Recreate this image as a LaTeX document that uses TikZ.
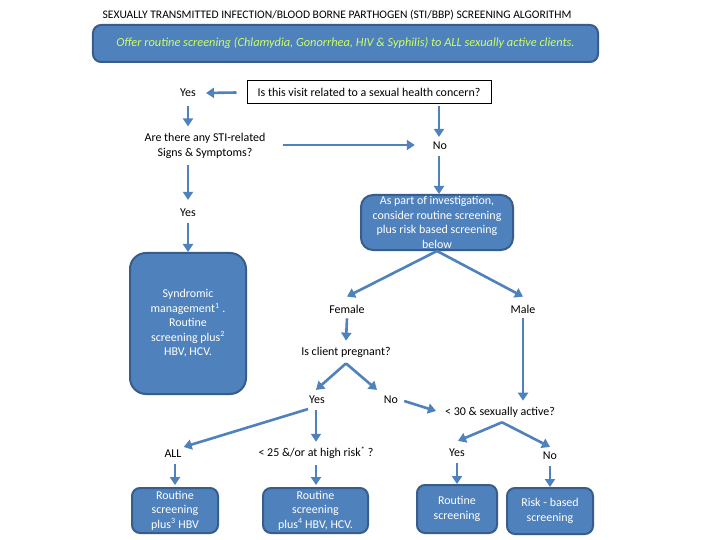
\documentclass[tikz,border=0pt]{standalone}
\usepackage{fontspec}
\setmainfont{Carlito}
\usetikzlibrary{arrows.meta,calc}
\definecolor{boxblue}{RGB}{79,129,189}
\definecolor{boxedge}{RGB}{56,93,138}
\definecolor{limetext}{RGB}{204,255,102}
\begin{document}
\begin{tikzpicture}[x=1bp,y=-1bp,
  every node/.style={font=\fontsize{12}{14.5}\selectfont, align=center},
  lbl/.style={inner sep=0pt},
  bbox/.style={draw=boxedge, line width=2bp, fill=boxblue, text=white, rounded corners=8bp, inner sep=1pt},
  arr/.style={draw=boxblue, line width=2.6bp, -{Triangle[length=8bp,width=10bp]}}]
\useasboundingbox[fill=white] (0,0) rectangle (720,540);

\node[lbl, font=\fontsize{11.6}{14}\selectfont] (title) at (337,15) {SEXUALLY TRANSMITTED INFECTION/BLOOD BORNE PARTHOGEN (STI/BBP) SCREENING ALGORITHM};
\node[bbox, minimum width=505bp, minimum height=37bp, text=limetext, font=\itshape\fontsize{12.4}{14}\selectfont] (banner) at (345.5,43.5) {Offer routine screening (Chlamydia, Gonorrhea, HIV \& Syphilis) to ALL sexually active clients.};

\node[draw=black, line width=1bp, minimum width=244bp, minimum height=23bp, inner sep=0pt] (q1) at (369,92.5) {Is this visit related to a sexual health concern?};
\node[lbl] (yes1) at (188,93) {Yes};
\node[lbl] (signs) at (205,146) {Are there any STI-related\\Signs \& Symptoms?};
\node[lbl] (no1) at (440,146) {No};
\node[bbox, rounded corners=12bp, minimum width=152bp, minimum height=55bp] (invest) at (437,222.5) {As part of investigation,\\consider routine screening\\plus risk based screening\\below};
\node[lbl] (yes2) at (188,213) {Yes};
\node[bbox, rounded corners=16bp, minimum width=116bp, minimum height=141bp] (synd) at (188,323.5) {Syndromic\\management\textsuperscript{1} .\\Routine\\screening plus\textsuperscript{2}\\HBV, HCV.};

\node[lbl] (female) at (347,309) {Female};
\node[lbl] (male) at (523,309) {Male};
\node[lbl] (preg) at (346,352) {Is client pregnant?};
\node[lbl] (yes3) at (317,400) {Yes};
\node[lbl] (no3) at (391,400) {No};
\node[lbl] (lt30) at (500,412) {< 30 \& sexually active?};
\node[lbl] (all) at (173,454) {ALL};
\node[lbl] (lt25) at (316,453) {< 25 \&/or at high risk\textsuperscript{*} ?};
\node[lbl] (yes4) at (457,453) {Yes};
\node[lbl] (no4) at (550,456) {No};

\node[bbox, minimum width=86bp, minimum height=45bp] (box1) at (175,510.5) {Routine\\screening\\plus\textsuperscript{3} HBV};
\node[bbox, minimum width=105bp, minimum height=45bp] (box2) at (315.5,510.5) {Routine\\screening\\plus\textsuperscript{4} HBV, HCV.};
\node[bbox, minimum width=80bp, minimum height=48bp] (box3) at (457,509) {Routine\\screening};
\node[bbox, minimum width=86bp, minimum height=46bp] (box4) at (550,511) {Risk - based\\screening};

% connectors
\draw[arr] ($(q1.west)+(-10,0)$) -- ($(yes1.east)+(10,0)$);
\draw[arr] ($(yes1.south)+(0,9)$) -- ($(signs.north -| yes1)+(0,-7)$);
\draw[arr] ($(signs.east)+(17,-1)$) -- ($(no1.west)+(-18,-1)$);
\draw[arr] ($(q1.south -| no1)+(-1,2)$) -- ($(no1.north)+(-1,-5)$);
\draw[arr] ($(no1.south)+(-1,6)$) -- ($(invest.north -| no1)+(-1,0)$);
\draw[arr] ($(signs.south -| yes2)+(0,6)$) -- ($(yes2.north)+(0,-9)$);
\draw[arr] ($(yes2.south)+(0,6)$) -- (synd.north);
\draw[arr] (invest.south) -- ($(female.north)+(0,-8)$);
\draw[arr] (invest.south) -- ($(male.north)+(0,-8)$);
\draw[arr] ($(female.south)+(0,5)$) -- ($(preg.north)+(0,-6)$);
\draw[arr] ($(preg.south)+(0,6)$) -- ($(yes3.north)+(-1,-6)$);
\draw[arr] ($(preg.south)+(0,6)$) -- ($(no3.north)+(-14,-6)$);
\draw[arr] ($(no3.east)+(6,1)$) -- ($(lt30.west)+(-9,-1)$);
\draw[arr] ($(male.south)+(0,5)$) -- ($(lt30.north -| male)+(0,-6)$);
\draw[arr] ($(yes3.south)+(-9,5)$) -- ($(all.north east)+(2,-3)$);
\draw[arr] ($(yes3.south)+(-1,6)$) -- ($(lt25.north -| yes3)+(-1,-5)$);
\draw[arr] ($(lt30.south)+(2,5)$) -- ($(yes4.north)+(1,-8)$);
\draw[arr] ($(lt30.south)+(2,5)$) -- ($(no4.north)+(0,-5)$);
\draw[arr] ($(all.south)+(2,6)$) -- ($(box1.north -| all)+(2,-2)$);
\draw[arr] ($(lt25.south -| yes3)+(-1,6)$) -- ($(box2.north -| yes3)+(-1,-2)$);
\draw[arr] ($(yes4.south)+(0,6)$) -- (box3.north);
\draw[arr] ($(no4.south)+(0,6)$) -- (box4.north);
\end{tikzpicture}
\end{document}
